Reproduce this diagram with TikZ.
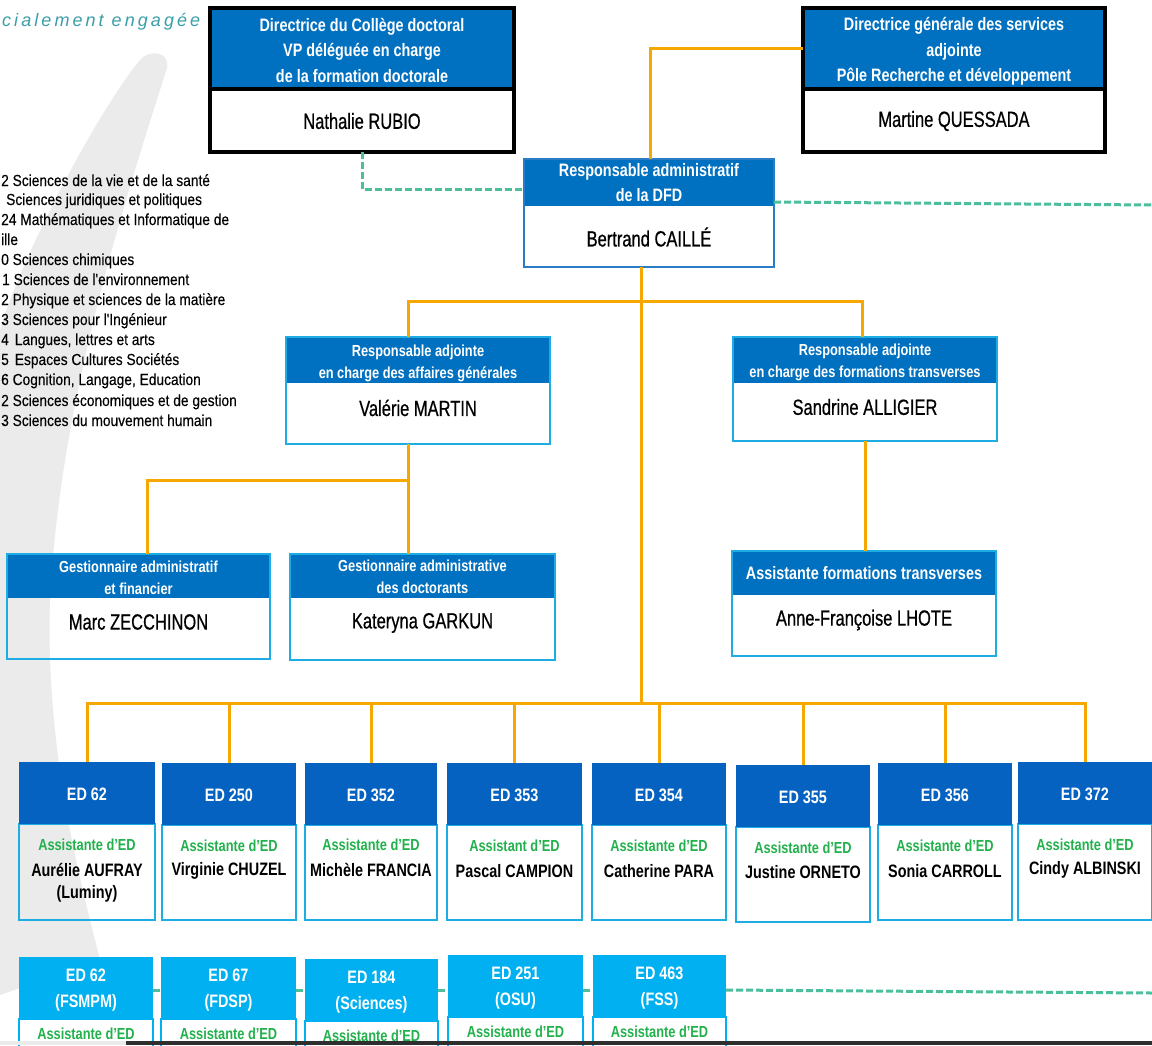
\documentclass[tikz,border=0pt]{standalone}
\usepackage{fontspec}
\setmainfont{Liberation Sans}
\newfontfamily\hf{Liberation Sans}[FakeStretch=0.8]
\newfontfamily\nf{Liberation Sans}[FakeStretch=0.75,FakeBold=0.6]
\newfontfamily\lf{Liberation Sans}[FakeStretch=0.86,FakeBold=0.2]
\usetikzlibrary{calc}
\definecolor{hblue}{HTML}{0070C0}
\definecolor{edblue}{HTML}{0562C1}
\definecolor{lblue}{HTML}{00B0F0}
\definecolor{bordl}{HTML}{1EADE3}
\definecolor{bordb}{HTML}{2A7CC4}
\definecolor{orng}{HTML}{F6A800}
\definecolor{gdsh}{HTML}{4DBE9C}
\definecolor{grn}{HTML}{22B14C}
\definecolor{swg}{HTML}{EBEBEB}
\definecolor{logoteal}{HTML}{3A9FA8}

% upper box: name, x1, y1, x2, y2, header bottom, border style
\newcommand\upbox[7]{%
  \fill[hblue] (#2,#3) rectangle (#4,#6);
  \node[boxf,#7,minimum width={(#4-#2)*1pt},minimum height={(#5-#3)*1pt}] (#1) at (#2,#3) {};
}
% ED box row 1: name, x1, top, x2, bottom, label
\newcommand\edbox[6]{%
  \node[boxf,minimum width={(#4-#2)*1pt},minimum height={(#5-#3)*1pt}] (#1) at (#2,#3) {};
  \draw[draw=bordl,line width=2pt] (#2,#3+62) rectangle (#4,#5);
  \fill[edblue] (#2,#3) rectangle (#4,#3+62);
  \node[htxt] (#1-t) at ({(#2+#4)/2},{#3+32}) {#6};
}
% ED box row 2: name, x1, top, x2, label
\newcommand\edboxb[5]{%
  \node[boxf,minimum width={(#4-#2)*1pt},minimum height=130pt] (#1) at (#2,#3) {};
  \draw[draw=lblue,line width=2pt] (#2,#3+62) rectangle (#4,#3+130);
  \fill[lblue] (#2,#3) rectangle (#4,#3+62);
  \node[htxt] (#1-t) at ({(#2+#4)/2},{#3+33}) {#5};
  \node[edg] (#1-g) at ({(#2+#4)/2},{#3+77}) {Assistante d’ED};
}

\begin{document}
\begin{tikzpicture}[x=1pt,y=-1pt,
  org/.style={draw=orng,line width=3pt},
  gdash/.style={draw=gdsh,line width=3pt,dash pattern=on 7pt off 3pt},
  boxf/.style={inner sep=0pt,outer sep=0pt,anchor=north west},
  htxt/.style={text=white,font=\hf\bfseries\fontsize{18}{25.5}\selectfont,align=center,inner sep=0pt},
  stxt/.style={text=white,font=\hf\bfseries\fontsize{16}{22}\selectfont,align=center,inner sep=0pt},
  ntxt/.style={text=black,font=\nf\fontsize{22}{26}\selectfont,inner sep=0pt},
  edn/.style={text=black,font=\hf\bfseries\fontsize{18}{24.5}\selectfont,align=center,inner sep=0pt},
  edg/.style={text=grn,font=\hf\bfseries\fontsize{16}{20}\selectfont,inner sep=0pt},
  ltxt/.style={font=\lf\fontsize{16}{20}\selectfont,anchor=base west,inner sep=0pt},
]
\useasboundingbox (0,0) rectangle (1152,1045);
\fill[white] (0,0) rectangle (1152,1045);

% background swoosh
\fill[swg] (140,60) .. controls (148,50) and (170,50) .. (167,68)
  .. controls (125,200) and (60,400) .. (50,600)
  .. controls (45,750) and (80,880) .. (100,960) -- (0,995) -- (0,330)
  .. controls (20,260) and (95,115) .. (140,60) -- cycle;

% logo text
\node[anchor=base west,inner sep=0pt,text=logoteal,font=\itshape\fontsize{18}{18}\selectfont\addfontfeature{LetterSpace=17}] (logo) at (2,26) {cialement engagée};

% list of doctoral schools
\node[ltxt] (l1) at (1,186) {2 Sciences de la vie et de la santé};
\node[ltxt] (l2) at (6,205) {Sciences juridiques et politiques};
\node[ltxt] (l3) at (1,225) {24 Mathématiques et Informatique de};
\node[ltxt] (l4) at (1,245) {ille};
\node[ltxt] (l5) at (1,265) {0 Sciences chimiques};
\node[ltxt] (l6) at (2,285) {1 Sciences de l'environnement};
\node[ltxt] (l7) at (1,305) {2 Physique et sciences de la matière};
\node[ltxt] (l8) at (1,325) {3 Sciences pour l'Ingénieur};
\node[ltxt] (l9) at (1,345) {4\hspace{6pt}Langues, lettres et arts};
\node[ltxt] (l10) at (1,365) {5\hspace{6pt}Espaces Cultures Sociétés};
\node[ltxt] (l11) at (1,385) {6 Cognition, Langage, Education};
\node[ltxt] (l12) at (1,406) {2 Sciences économiques et de gestion};
\node[ltxt] (l13) at (1,426) {3 Sciences du mouvement humain};

% top boxes
\upbox{rubio}{210}{8}{514}{152}{87}{draw=black,line width=4pt}
\draw[line width=4pt] (210,88.5) -- (514,88.5);
\node[htxt] (rubio-h) at (362,50) {Directrice du Collège doctoral\\VP déléguée en charge\\de la formation doctorale};
\node[ntxt] (rubio-n) at (362,121) {Nathalie RUBIO};

\upbox{quessada}{803}{8}{1105}{152}{87}{draw=black,line width=4pt}
\draw[line width=4pt] (803,88.5) -- (1105,88.5);
\node[htxt] (quessada-h) at (954,51.5) {Directrice générale des services\\adjointe\\Pôle Recherche et développement};
\node[ntxt] (quessada-n) at (954,121) {Martine QUESSADA};

\upbox{caille}{524}{159}{774}{267}{206}{draw=bordb,line width=2pt}
\node[htxt] (caille-h) at (649,182.5) {Responsable administratif\\de la DFD};
\node[ntxt] (caille-n) at (649,237) {Bertrand CAILLÉ};

\upbox{martin}{286}{337}{550}{444}{383}{draw=bordl,line width=2pt}
\node[stxt] (martin-h) at (418,363) {Responsable adjointe\\en charge des affaires générales};
\node[ntxt] (martin-n) at (418,408) {Valérie MARTIN};

\upbox{alligier}{733}{337}{997}{441}{383}{draw=bordl,line width=2pt}
\node[stxt] (alligier-h) at (865,362) {Responsable adjointe\\en charge des formations transverses};
\node[ntxt] (alligier-n) at (865,407) {Sandrine ALLIGIER};

\upbox{zecchinon}{7}{554}{270}{659}{598}{draw=bordl,line width=2pt}
\node[stxt] (zecchinon-h) at (138.5,578) {Gestionnaire administratif\\et financier};
\node[ntxt] (zecchinon-n) at (138.5,622) {Marc ZECCHINON};

\upbox{garkun}{290}{554}{555}{660}{598}{draw=bordl,line width=2pt}
\node[stxt] (garkun-h) at (422.5,577) {Gestionnaire administrative\\des doctorants};
\node[ntxt] (garkun-n) at (422.5,623) {Kateryna GARKUN};

\upbox{lhote}{732}{551}{996}{656}{595}{draw=bordl,line width=2pt}
\node[htxt] (lhote-h) at (864,573) {Assistante formations transverses};
\node[ntxt] (lhote-n) at (864,620) {Anne-Françoise LHOTE};

% ED boxes row 1
\edbox{ed1}{19}{762}{155}{920}{ED 62}
\edbox{ed2}{162}{763}{296}{920}{ED 250}
\edbox{ed3}{305}{763}{437}{920}{ED 352}
\edbox{ed4}{447}{763}{582}{920}{ED 353}
\edbox{ed5}{592}{763}{726}{920}{ED 354}
\edbox{ed6}{736}{765}{870}{922}{ED 355}
\edbox{ed7}{878}{763}{1012}{920}{ED 356}
\edbox{ed8}{1018}{762}{1152}{920}{ED 372}

\node[edg] (ed1-g) at (87,845) {Assistante d’ED};
\node[edn] (ed1-n) at (87,870) {Aurélie AUFRAY};
\node[edn] (ed1-m) at (87,894) {(Luminy)};
\node[edg] (ed2-g) at (229,846) {Assistante d’ED};
\node[edn] (ed2-n) at (229,871) {Virginie CHUZEL};
\node[edg] (ed3-g) at (371,845) {Assistante d’ED};
\node[edn] (ed3-n) at (371,870) {Michèle FRANCIA};
\node[edg] (ed4-g) at (514.5,846) {Assistant d’ED};
\node[edn] (ed4-n) at (514.5,871) {Pascal CAMPION};
\node[edg] (ed5-g) at (659,846) {Assistante d’ED};
\node[edn] (ed5-n) at (659,871) {Catherine PARA};
\node[edg] (ed6-g) at (803,848) {Assistante d’ED};
\node[edn] (ed6-n) at (803,872) {Justine ORNETO};
\node[edg] (ed7-g) at (945,846) {Assistante d’ED};
\node[edn] (ed7-n) at (945,871) {Sonia CARROLL};
\node[edg] (ed8-g) at (1085,845) {Assistante d’ED};
\node[edn] (ed8-n) at (1085,870) {Cindy ALBINSKI};

% ED boxes row 2
\edboxb{r1}{19}{957}{153}{ED 62\\(FSMPM)}
\edboxb{r2}{161}{957}{296}{ED 67\\(FDSP)}
\edboxb{r3}{305}{959}{438}{ED 184\\(Sciences)}
\edboxb{r4}{448}{955}{583}{ED 251\\(OSU)}
\edboxb{r5}{593}{955}{726}{ED 463\\(FSS)}

% connectors
\coordinate (j1) at (650,48);
\draw[org] (caille.north -| j1) -- (j1) -- (j1 -| quessada.west);

\coordinate (g1) at (362,189);
\draw[gdash] (rubio.south) -- (g1) -- (g1 -| caille.west);
\coordinate (g2) at (0,202);
\coordinate (gR) at (1152,205);
\draw[gdash] (caille.east |- g2) -- (gR);

\coordinate (jb) at (641,703);
\draw[org] (caille.south -| jb) -- (jb);
\coordinate (vm) at (408,301);
\coordinate (vs) at (862,301);
\draw[org] (martin.north -| vm) -- (vm) -- (vs) -- (alligier.north -| vs);
\coordinate (vk) at (408,480);
\coordinate (vz) at (147,480);
\draw[org] (martin.south -| vk) -- (garkun.north -| vk);
\draw[org] (vk) -- (vz) -- (zecchinon.north -| vz);
\coordinate (va) at (865,0);
\draw[org] (alligier.south -| va) -- (lhote.north -| va);

\foreach \n in {ed1,ed2,ed3,ed4,ed5,ed6,ed7,ed8}
  \draw[org] (\n.north) |- (jb);

\coordinate (d2) at (0,990);
\coordinate (dR) at (1152,993);
\draw[gdash] (r1.east |- d2) -- (r2.west |- d2);
\draw[gdash] (r2.east |- d2) -- (r3.west |- d2);
\draw[gdash] (r3.east |- d2) -- (r4.west |- d2);
\draw[gdash] (r4.east |- d2) -- (r5.west |- d2);
\draw[gdash] (r5.east |- d2) -- (dR);

% bottom screen bar
\fill[black!8] (0,1041) rectangle (126,1045);
\fill[black!82] (126,1041) rectangle (1152,1045);
\end{tikzpicture}
\end{document}
